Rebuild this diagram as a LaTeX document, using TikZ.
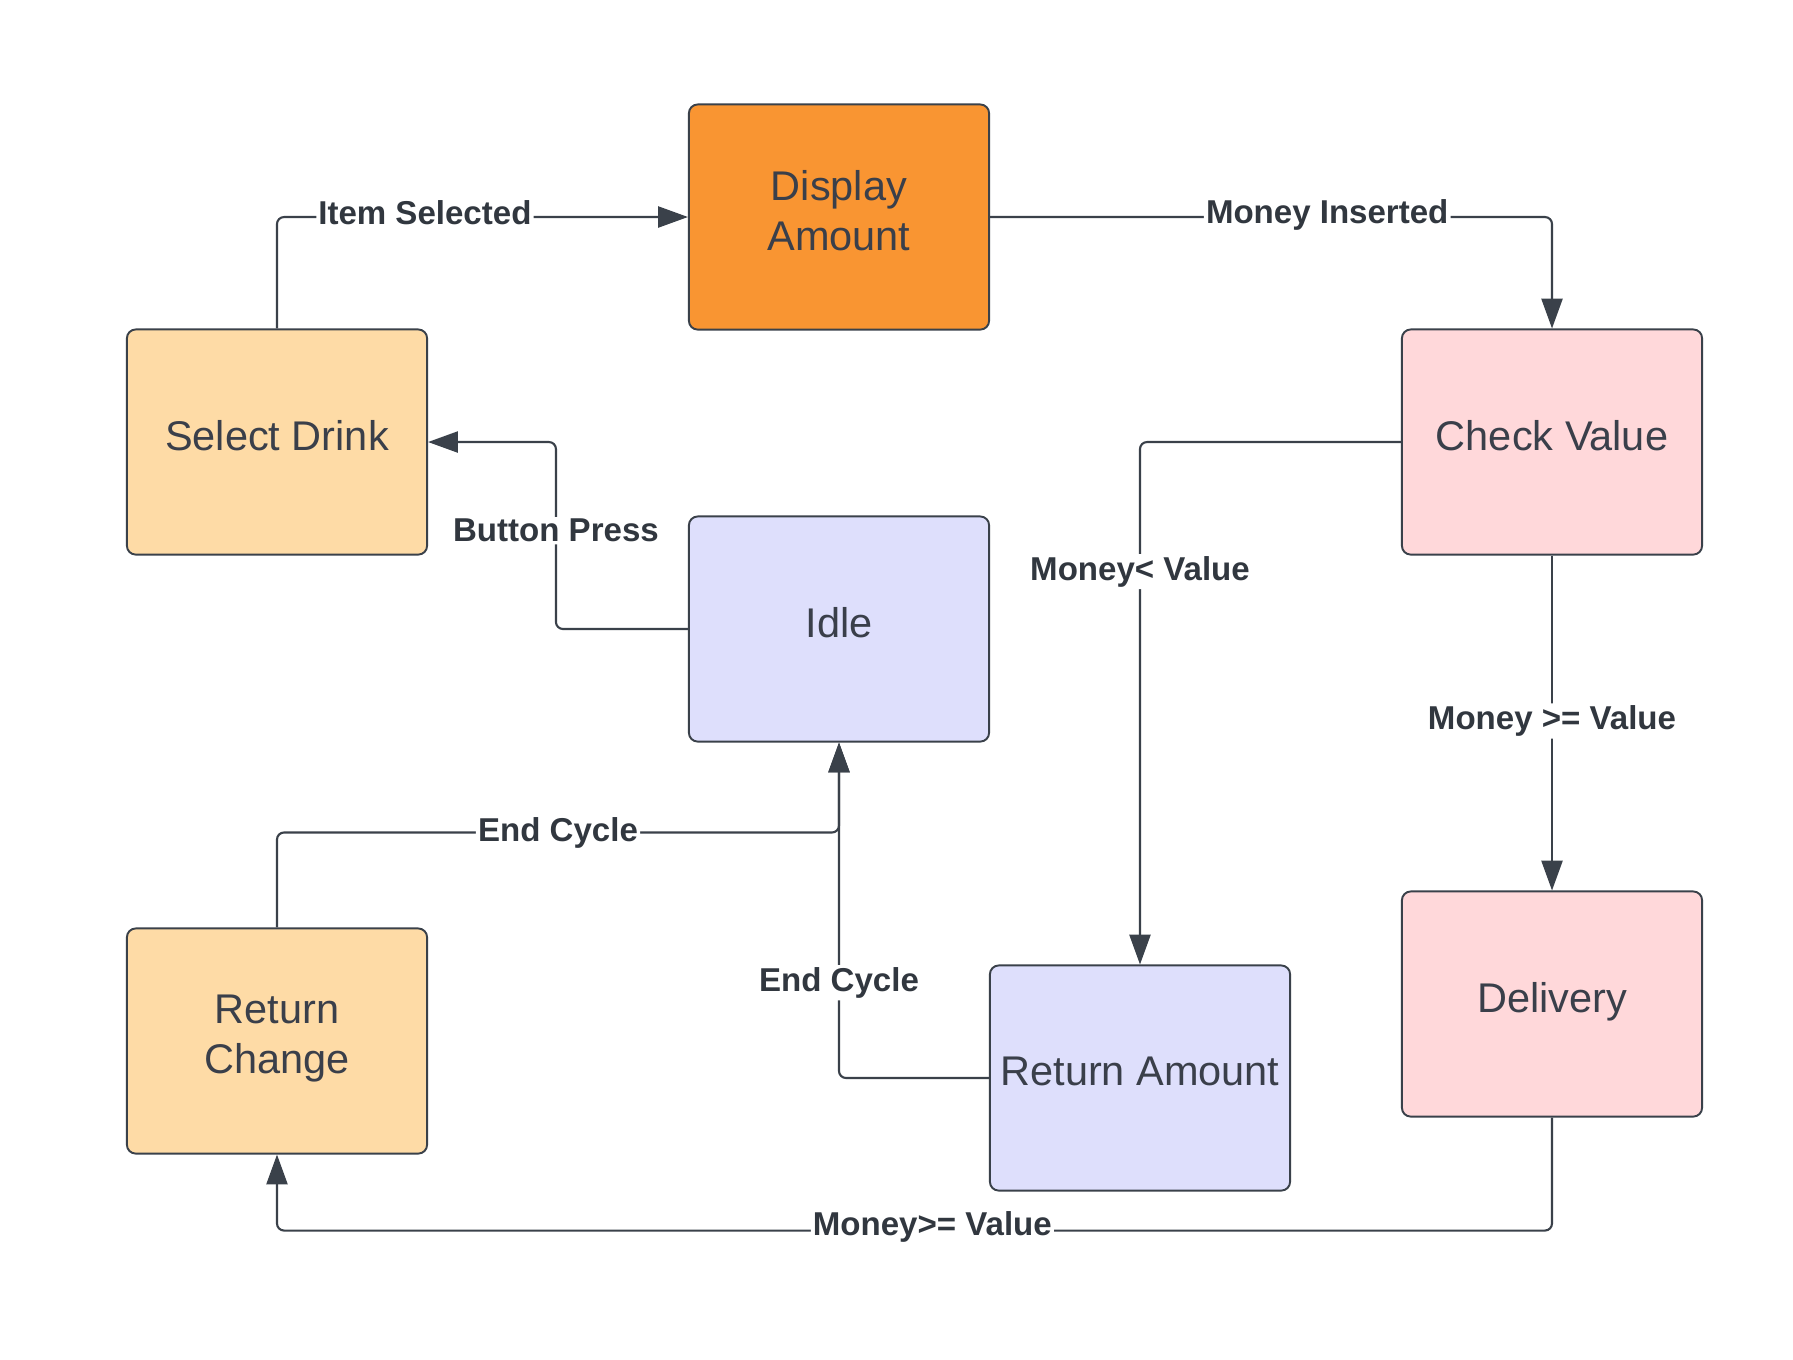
\documentclass[tikz,border=0pt]{standalone}
\usepackage{fontspec}
\setmainfont{Liberation Sans}
\usepackage{xcolor}
\usetikzlibrary{arrows.meta,positioning,calc}
\definecolor{edge}{HTML}{3A414A}
\definecolor{ink}{HTML}{3A3F4A}
\definecolor{orangefill}{HTML}{F99532}
\definecolor{sandfill}{HTML}{FEDBA6}
\definecolor{rosefill}{HTML}{FFD8DA}
\definecolor{lilacfill}{HTML}{DEDFFC}

\begin{document}
\begin{tikzpicture}[x=0.01cm, y=-0.01cm,
  state/.style={draw=edge, line width=0.55pt, rounded corners=2.5pt, minimum width=3cm, minimum height=2.25cm, inner sep=2pt, text depth=3.8pt, align=center, text=ink, font=\fontsize{11.8pt}{14.3pt}\selectfont},
  flow/.style={draw=edge, line width=0.6pt, rounded corners=2pt, -{Triangle[length=8.5pt,width=6pt]}},
  lbl/.style={fill=white, inner sep=0.6pt, text=edge!85!black, font=\fontsize{9.4pt}{11pt}\selectfont\bfseries},
  hlbl/.style={lbl, yshift=1.1pt}
]
  \useasboundingbox (0,0) rectangle (1793,1359);

  \node[state, fill=orangefill] (disp) at (839,217) {Display\\Amount};
  \node[state, fill=sandfill] (sel) at (277,442) {Select Drink};
  \node[state, fill=rosefill] (chk) at (1552,442) {Check Value};
  \node[state, fill=lilacfill] (idle) at (839,629) {Idle};
  \node[state, fill=sandfill] (rch) at (277,1041) {Return\\Change};
  \node[state, fill=lilacfill] (ret) at (1140,1078) {Return Amount};
  \node[state, fill=rosefill] (del) at (1552,1004) {Delivery};

  \draw[flow] (sel.north) |- node[hlbl, pos=0.68] {Item Selected} (disp.west);
  \draw[flow] (disp.east) -| node[lbl, yshift=0.6pt, pos=0.3] {Money Inserted} (chk.north);
  \draw[flow] (idle.west) -- ++(-132,0) |- node[lbl, pos=0.263] {Button Press} (sel.east);
  \draw[flow] (chk.west) -| node[lbl, pos=0.624] {Money< Value} (ret.north);
  \draw[flow] (chk.south) -- node[lbl, pos=0.494] {Money >= Value} (del.north);
  \draw[flow] (del.south) -- ++(0,113) -| node[hlbl, pos=0.243] {Money>= Value} (rch.south);
  % both end cycles meet under Idle
  \draw[flow] (rch.north) -- ++(0,-95) -| node[lbl, pos=0.25] {End Cycle} (idle.south);
  \draw[flow] (ret.west) -| node[lbl, pos=0.642] {End Cycle} (idle.south);
\end{tikzpicture}
\end{document}
